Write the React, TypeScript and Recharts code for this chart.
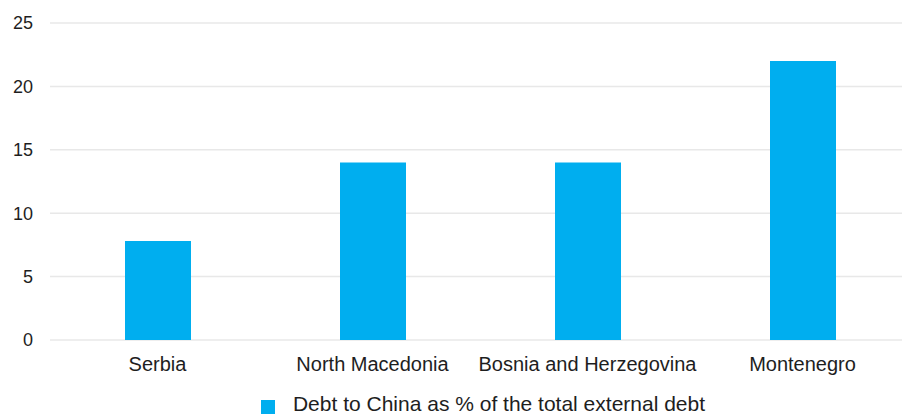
import { BarChart, Bar, XAxis, YAxis, CartesianGrid, Legend } from "recharts";

const COUNTRIES = ["Serbia", "North Macedonia", "Bosnia and Herzegovina", "Montenegro"];
const DEBT_SHARE = [7.8, 14, 14, 22];
const Y_TICKS = [0, 5, 10, 15, 20, 25];
const SERIES_NAME = "Debt to China as % of the total external debt";

const CYAN = "#00aeef";
const TEXT = "#1e1e1e";

const data = COUNTRIES.map((country, i) => ({ country, value: DEBT_SHARE[i] }));

export default function App() {
  return (
    <div
      style={{
        position: "absolute",
        left: 0,
        top: 0,
        width: 902,
        height: 416,
        overflow: "hidden",
        background: "#fff",
        fontFamily: "'Liberation Sans', Arial, sans-serif",
      }}
    >
      <BarChart width={920} height={416} data={data} margin={{ top: 23, right: 10, left: 0, bottom: 0 }}>
        <CartesianGrid vertical={false} stroke="#e8e8e8" strokeWidth={1.5} />
        <XAxis
          dataKey="country"
          axisLine={false}
          tickLine={false}
          tickMargin={11}
          height={52}
          interval={0}
          tick={{ fontSize: 20, fill: TEXT }}
        />
        <YAxis
          domain={[0, 25]}
          ticks={Y_TICKS}
          axisLine={false}
          tickLine={false}
          tickMargin={11}
          width={50}
          tick={{ fontSize: 18, fill: TEXT }}
        />
        <Legend
          verticalAlign="bottom"
          iconType="square"
          iconSize={14}
          wrapperStyle={{ bottom: -1, left: 33, lineHeight: "22px" }}
          formatter={(v) => <span style={{ color: TEXT, fontSize: 21, marginLeft: 14 }}>{v}</span>}
        />
        <Bar dataKey="value" name={SERIES_NAME} fill={CYAN} barSize={66} isAnimationActive={false} />
      </BarChart>
    </div>
  );
}
